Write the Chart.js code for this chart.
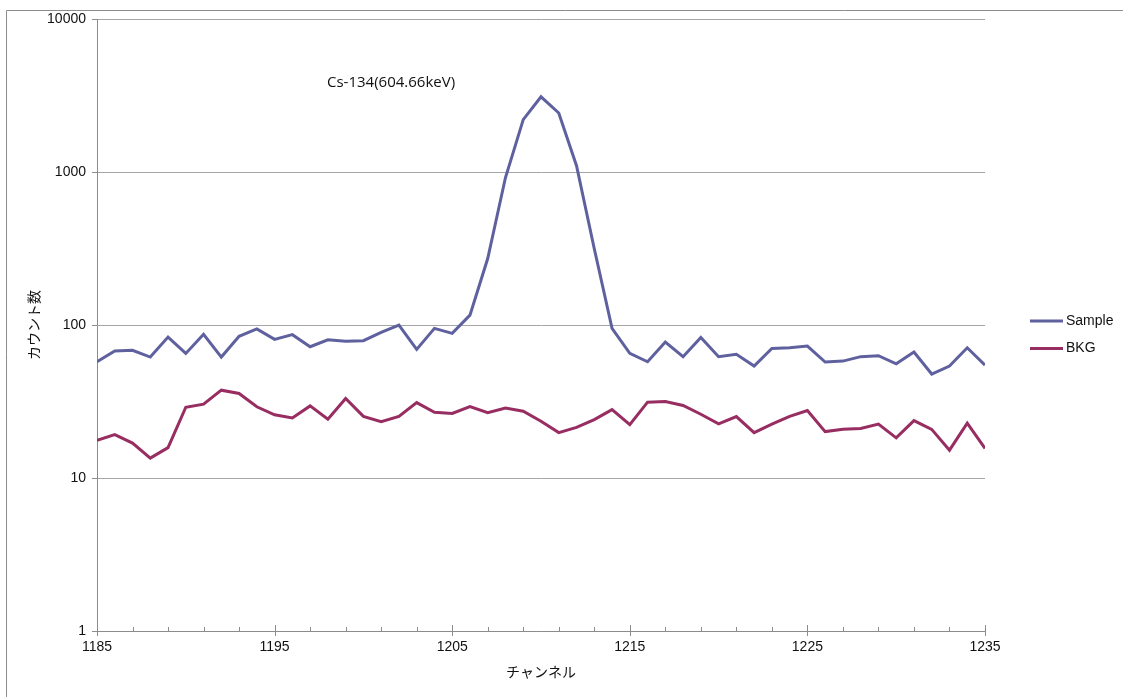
<!DOCTYPE html>
<html>
<head>
<meta charset="utf-8">
<script src="https://cdn.jsdelivr.net/npm/chart.js@4/dist/chart.umd.min.js"></script>
<style>
html,body{margin:0;padding:0;background:#fff;}
#wrap{width:1123px;height:697px;position:relative;}
</style>
</head>
<body>
<div id="wrap"><canvas id="c" width="1123" height="697"></canvas></div>
<script>
const channels = [1185,1186,1187,1188,1189,1190,1191,1192,1193,1194,1195,1196,1197,1198,1199,1200,1201,1202,1203,1204,1205,1206,1207,1208,1209,1210,1211,1212,1213,1214,1215,1216,1217,1218,1219,1220,1221,1222,1223,1224,1225,1226,1227,1228,1229,1230,1231,1232,1233,1234,1235];
const sampleCounts = [57.5,67.6,68.3,61.7,83.4,65.2,86.9,61.7,84.3,94.2,80.5,86.5,72.1,80.1,78.2,79.0,89.5,100,69.3,95.1,88.2,116,272,920,2200,3100,2430,1100,315,95,65.2,57.5,77.4,62.1,83.0,62.1,64.3,53.9,70.3,71.0,72.8,57.3,58.1,62.1,63.0,55.8,66.6,47.8,53.9,71.0,54.7];
const bkgCounts = [17.6,19.2,16.9,13.5,15.8,29.0,30.4,37.5,35.7,29.2,25.9,24.7,29.6,24.2,33.1,25.3,23.3,25.3,31.1,26.9,26.4,29.3,26.7,28.7,27.3,23.5,19.8,21.4,24.1,28.0,22.3,31.3,31.6,29.8,26.1,22.6,25.2,19.8,22.5,25.3,27.6,20.1,20.8,21.1,22.5,18.3,23.7,20.8,15.2,22.8,15.6];
const seriesNames = ['Sample','BKG'];
const xTickValues = [1185,1187,1189,1191,1193,1195,1197,1199,1201,1203,1205,1207,1209,1211,1213,1215,1217,1219,1221,1223,1225,1227,1229,1231,1233,1235];
const xTickLabels = ['1185','1195','1205','1215','1225','1235'];
const yTickValues = [1,10,100,1000,10000];
const yTickLabels = ['1','10','100','1000','10000'];
const xTitle = 'チャンネル';
const yTitle = 'カウント数';
const annotationText = 'Cs-134(604.66keV)';

const colors = ['#5f619f','#972d61'];
const axisGray = '#8c8c8c';
const gridGray = '#a6a6a6';
const textColor = '#111111';

const datasets = [sampleCounts, bkgCounts].map((vals, i) => ({
  label: seriesNames[i],
  data: channels.map((c, k) => ({x: c, y: vals[k]})),
  borderColor: colors[i],
  backgroundColor: colors[i],
  borderWidth: 3,
  pointRadius: 0,
  tension: 0,
  fill: false
}));

const decorPlugin = {
  id: 'decor',
  beforeDraw(chart) {
    const ctx = chart.ctx;
    ctx.save();
    ctx.fillStyle = '#fff';
    ctx.fillRect(0, 0, chart.width, chart.height);
    ctx.strokeStyle = axisGray;
    ctx.lineWidth = 1;
    ctx.beginPath();
    ctx.moveTo(6.5, chart.height + 2);
    ctx.lineTo(6.5, 10.5);
    ctx.lineTo(chart.width + 2, 10.5);
    ctx.stroke();
    ctx.restore();
  },
  afterDraw(chart) {
    const ctx = chart.ctx;
    const xs = chart.scales.x;
    const ca = chart.chartArea;
    ctx.save();
    ctx.strokeStyle = axisGray;
    ctx.lineWidth = 1;
    xTickValues.forEach(v => {
      const px = Math.round(xs.getPixelForValue(v)) + 0.5;
      const major = xTickLabels.includes(String(v));
      ctx.beginPath();
      ctx.moveTo(px, ca.bottom - (major ? 6 : 4));
      ctx.lineTo(px, ca.bottom + (major ? 5 : 0));
      ctx.stroke();
    });
    ctx.fillStyle = textColor;
    ctx.font = '15px "Open Sans", "Liberation Sans", sans-serif';
    ctx.textBaseline = 'middle';
    ctx.textAlign = 'left';
    ctx.fillText(annotationText, 327, 83);
    ctx.font = '14px "Liberation Sans", Arial, sans-serif';
    chart.data.datasets.forEach((ds, i) => {
      const y = 321 + i * 27.5;
      ctx.strokeStyle = ds.borderColor;
      ctx.lineWidth = 3;
      ctx.beginPath();
      ctx.moveTo(1030, y);
      ctx.lineTo(1063, y);
      ctx.stroke();
      ctx.fillStyle = textColor;
      ctx.fillText(ds.label, 1066, y);
    });
    ctx.restore();
  }
};

new Chart(document.getElementById('c'), {
  type: 'line',
  data: { datasets },
  options: {
    responsive: false,
    animation: false,
    devicePixelRatio: 1,
    layout: { padding: { left: 0, top: 19, right: 138, bottom: 0 } },
    plugins: { legend: { display: false }, tooltip: { enabled: false } },
    scales: {
      x: {
        type: 'linear',
        min: 1185,
        max: 1235,
        afterBuildTicks(scale) { scale.ticks = xTickValues.map(v => ({value: v})); },
        afterFit(scale) { scale.height = 66; },
        ticks: {
          autoSkip: false,
          maxRotation: 0,
          padding: 8,
          color: textColor,
          font: { family: '"Liberation Sans", Arial, sans-serif', size: 14 },
          callback(v) { return xTickLabels.includes(String(v)) ? String(v) : ''; }
        },
        grid: { display: false, drawTicks: false },
        border: { display: true, color: axisGray, width: 1 },
        title: {
          display: true,
          text: xTitle,
          color: textColor,
          font: { family: '"Noto Sans CJK JP", sans-serif', size: 14 },
          padding: { top: 0, bottom: 17 }
        }
      },
      y: {
        type: 'logarithmic',
        min: 1,
        max: 10000,
        afterBuildTicks(scale) { scale.ticks = yTickValues.map(v => ({value: v})); },
        afterFit(scale) { scale.width = 97; },
        ticks: {
          padding: 6,
          color: textColor,
          font: { family: '"Liberation Sans", Arial, sans-serif', size: 14 },
          callback(v) { const i = yTickValues.indexOf(v); return i >= 0 ? yTickLabels[i] : ''; }
        },
        grid: { color: gridGray, lineWidth: 1, drawTicks: true, tickLength: 5, tickColor: axisGray },
        border: { display: true, color: axisGray, width: 1 },
        title: {
          display: true,
          text: yTitle,
          color: textColor,
          font: { family: '"Noto Sans CJK JP", sans-serif', size: 14 },
          padding: { top: 25, bottom: 0 }
        }
      }
    }
  },
  plugins: [decorPlugin]
});
</script>
</body>
</html>
